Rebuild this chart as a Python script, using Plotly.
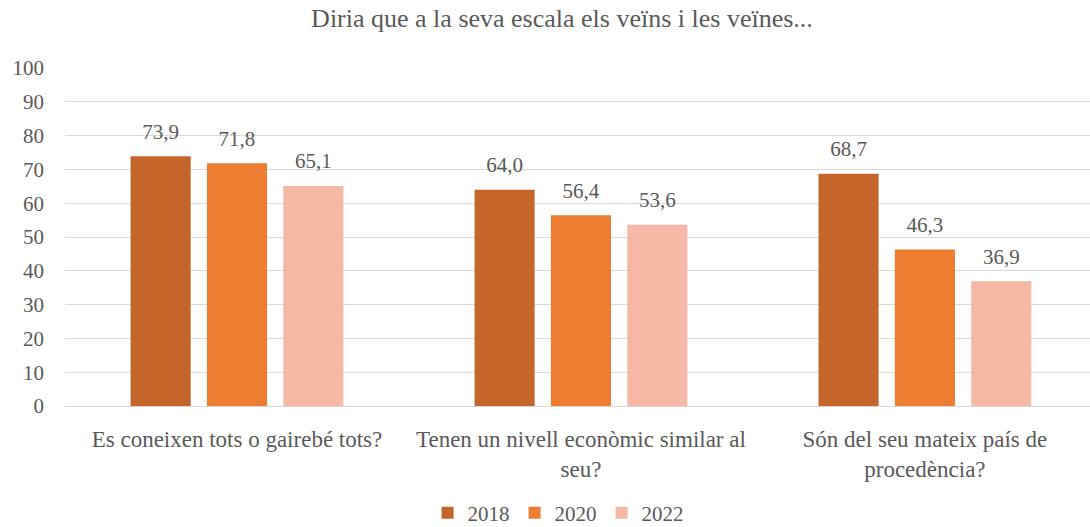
import plotly.graph_objects as go

categories = ["Es coneixen tots o gairebé tots?",
              "Tenen un nivell econòmic similar al<br>seu?",
              "Són del seu mateix país de<br>procedència?"]
years = ["2018", "2020", "2022"]
v2018 = [73.9, 64.0, 68.7]
v2020 = [71.8, 56.4, 46.3]
v2022 = [65.1, 53.6, 36.9]
colors = ["#C4652A", "#ED7D31", "#F4B8A5"]
y_ticks = [0, 10, 20, 30, 40, 50, 60, 70, 80, 90, 100]

font_family = "'Liberation Serif', 'Times New Roman', serif"
grey = "#595959"

fig = go.Figure()
for name, vals, col in zip(years, [v2018, v2020, v2022], colors):
    fig.add_trace(go.Bar(
        x=categories, y=vals, name=name, marker_color=col,
        marker_line_width=0, offsetgroup=name, hoverinfo="skip",
    ))
for name, vals in zip(years, [v2018, v2020, v2022]):
    fig.add_trace(go.Scatter(
        x=categories, y=vals, mode="markers+text", offsetgroup=name,
        marker=dict(size=18, color="rgba(0,0,0,0)"),
        text=[f"{v:.1f}".replace(".", ",") for v in vals],
        textposition="top center", cliponaxis=False, showlegend=False,
        hoverinfo="skip",
        textfont=dict(size=21, color=grey, family=font_family),
    ))

fig.update_layout(
    width=1090, height=527,
    margin=dict(l=65, r=0, t=68, b=121),
    paper_bgcolor="white", plot_bgcolor="white",
    barmode="group", bargap=0.334, bargroupgap=0.213,
    scattermode="group", scattergap=0.334,
    title=dict(text="Diria que a la seva escala els veïns i les veïnes...",
               x=562 / 1090, xanchor="center", xref="container", y=0.966, yanchor="middle",
               font=dict(size=26, color=grey, family=font_family)),
    font=dict(family=font_family, color=grey, size=21),
    legend=dict(orientation="h", x=0.512, xanchor="center", xref="container",
                y=(527 - 513) / 527, yanchor="middle", yref="container",
                font=dict(size=21, color=grey, family=font_family), traceorder="normal",
                itemwidth=30),
    showlegend=True,
)
fig.update_yaxes(range=[0, 100], tickvals=y_ticks, showgrid=True, gridcolor="#D9D9D9",
                 gridwidth=1, zeroline=False, showline=False, automargin=False,
                 tickfont=dict(size=21, color=grey, family=font_family), ticks="", ticklabelstandoff=20)
fig.update_xaxes(showline=True, linecolor="#D9D9D9", linewidth=1, ticks="", automargin=False,
                 range=[-0.5, 2.48], ticklabelstandoff=12,
                 tickfont=dict(size=23, color=grey, family=font_family))

fig.write_html("out.html", config={"displayModeBar": False},
               post_script="document.body.style.margin='0';document.body.style.padding='0';")
